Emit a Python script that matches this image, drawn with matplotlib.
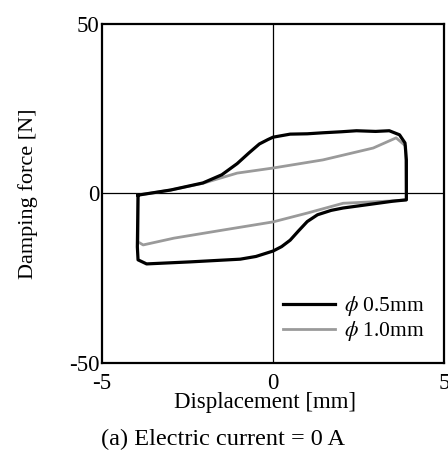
import matplotlib.pyplot as plt

plt.rcParams['font.family'] = ['Liberation Serif', 'DejaVu Serif']
plt.rcParams['mathtext.fontset'] = 'stix'
plt.rcParams['axes.unicode_minus'] = False

# phi 0.5 mm loop (displacement mm, force N)
x_05 = [-3.95, -3.0, -2.05, -1.5, -1.05, -0.7, -0.4, -0.15, 0.0, 0.5, 1.0, 1.46, 2.0, 2.44, 3.0, 3.4,
        3.7, 3.86, 3.9, 3.9, 3.5, 2.05, 1.7, 1.3, 1.0, 0.75, 0.5, 0.25, 0.0, -0.5, -0.96, -2.42, -3.7,
        -3.95, -3.97, -3.95]
y_05 = [-0.5, 1.0, 3.1, 5.5, 8.8, 12.0, 14.6, 15.9, 16.6, 17.5, 17.6, 17.9, 18.2, 18.5, 18.3, 18.5,
        17.3, 14.9, 9.9, -1.9, -2.3, -4.3, -5.0, -6.3, -8.3, -11.0, -13.8, -15.7, -17.0, -18.6, -19.4,
        -20.2, -20.8, -19.6, -15.8, -0.5]

# phi 1.0 mm loop
x_10 = [-3.95, -3.0, -2.05, -1.05, 0.0, 1.46, 2.93, 3.6, 3.88, 3.9, 3.5, 2.05, 1.0, 0.0,
        -1.46, -2.9, -3.8, -3.95, -3.95]
y_10 = [-0.5, 1.0, 3.0, 6.0, 7.5, 9.9, 13.4, 16.4, 14.0, -1.9, -2.2, -2.9, -5.8, -8.4,
        -10.8, -13.2, -15.2, -14.3, -0.5]

fig = plt.figure(figsize=(4.48, 4.53), dpi=100)
ax = fig.add_axes([0.228, 0.199, 0.763, 0.748])

ax.axhline(0, color='black', linewidth=0.9)
ax.axvline(0, color='black', linewidth=0.9)

ax.plot(x_10, y_10, color='#9a9a9a', linewidth=2.0, label=r'$\phi$ 1.0mm', zorder=3)
ax.plot(x_05, y_05, color='black', linewidth=2.3, label=r'$\phi$ 0.5mm', zorder=4)

ax.set_xlim(-5, 5)
ax.set_ylim(-50, 50)
ax.set_xticks([-5, 0, 5])
ax.set_yticks([-50, 0, 50])
ax.tick_params(length=0, labelsize=16.5)
ax.tick_params(axis='x', pad=7)
ax.tick_params(axis='y', pad=2)
for s in ax.spines.values():
    s.set_linewidth(1.6)

ax.set_xlabel('Displacement [mm]', fontsize=16.5)
ax.xaxis.set_label_coords(0.478, -0.085)
ax.set_ylabel('Damping force [N]', fontsize=16)
ax.yaxis.set_label_coords(-0.187, 0.5)

h, l = ax.get_legend_handles_labels()
ax.legend(h[::-1], l[::-1], loc='lower right', frameon=False, fontsize=15.5,
          handlelength=2.4, handletextpad=0.4, labelspacing=0.05,
          borderaxespad=0.5)

fig.text(0.498, 0.018, '(a) Electric current = 0 A', ha='center', va='baseline', fontsize=17.5)

plt.savefig('out.png', dpi=100)
